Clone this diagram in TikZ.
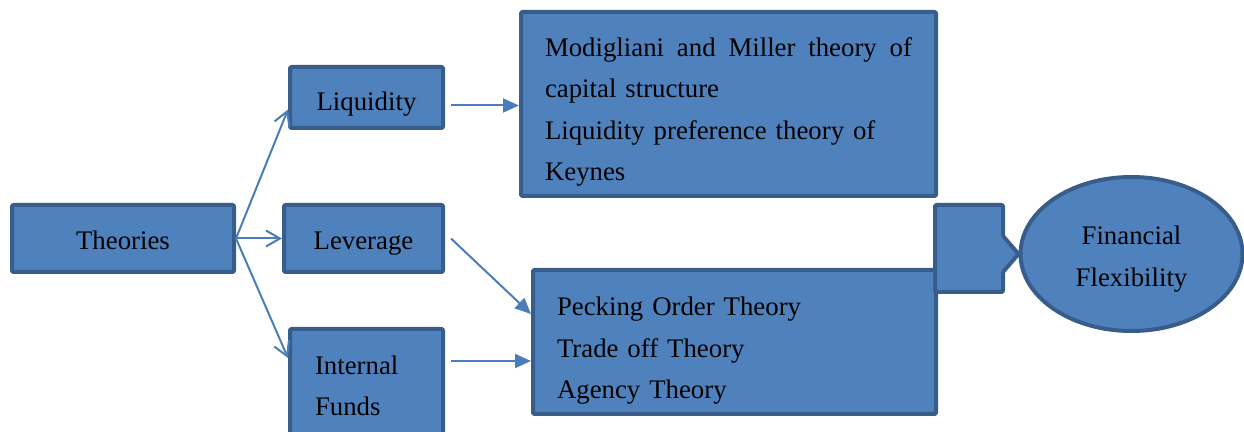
\documentclass[tikz,border=0pt]{standalone}
\usepackage{fontspec}
\setmainfont{Liberation Serif}
\usetikzlibrary{arrows.meta,shapes.geometric}
\definecolor{boxfill}{HTML}{4F81BD}
\definecolor{boxline}{HTML}{385D8A}
\definecolor{arrowblue}{HTML}{4A7EBB}
% taller first line, so the text sits lower in its box
\newcommand\txtdown[1]{\rule{0pt}{\dimexpr 9.2pt+#1\relax}}

\begin{document}
\begin{tikzpicture}[x=0.5pt, y=-0.5pt, font=\fontsize{13.4}{20.75}\selectfont,
  box/.style={draw=boxline, fill=boxfill, line width=2pt, line join=round, rounded corners=0.6pt, inner sep=0pt},
  fan/.style={-{Straight Barb[length=7pt,width=8pt]}, arrowblue, line width=1pt},
  link/.style={-{Triangle[length=8pt,width=7pt]}, arrowblue, line width=1pt}]
\useasboundingbox (0,0) rectangle (1244,432);

\node[box, minimum width=111pt, minimum height=33.5pt] (theories) at (123,238.5) {\txtdown{2pt}Theories};
\node[box, minimum width=76.5pt, minimum height=30.5pt] (liquidity) at (366.5,97.5) {\txtdown{7pt}Liquidity};
  \node[box, minimum width=79.5pt, minimum height=33.5pt] (leverage) at (363.5,238.5) {\txtdown{5pt}Leverage};
\node[box, text width=51.5pt, inner xsep=12.5pt, minimum height=60.5pt, align=left] (internal) at (366.5,389.5) {Internal\\Funds\rule[-4pt]{0pt}{0pt}};

\node[box, text width=183.5pt, inner xsep=12pt, minimum height=92pt, align=left] (modig) at (728.5,104)
  {\txtdown{8pt}\hbox to 183.5pt{Modigliani\hfill and\hfill Miller\hfill theory\hfill of}\\capital structure\\Liquidity preference theory of\\Keynes};
\node[box, text width=177.5pt, inner xsep=12pt, minimum height=72pt, align=left] (pecking) at (734.5,342)
  {\txtdown{9pt}Pecking Order Theory\\Trade off Theory\\Agency Theory};

\node[box, ellipse, minimum width=111pt, minimum height=77pt, align=center] (flex) at (1131.5,254) {\txtdown{5pt}Financial\\Flexibility};
% callout pointing at the ellipse
\draw[box] (935,205) -| (1003,236) -- (flex.west) -- (1003,272) |- (935,292) -- cycle;

  \draw[fan] (theories.east) -- ([yshift=-6pt]liquidity.west);
  \draw[fan] (theories.east) -- (leverage.west);
  \draw[fan] (theories.east) -- ([yshift=-15.5pt]internal.north west);

\coordinate (liqout) at ([xshift=3pt,yshift=-4pt]liquidity.east);
\coordinate (intout) at ([xshift=3pt,yshift=-17pt]internal.north east);
  \draw[link] (liqout) -- (liqout -| modig.west);
  \draw[link] ([xshift=3pt]leverage.east) -- ([yshift=-23pt]pecking.north west);
  \draw[link] (intout) -- (intout -| pecking.west);

\end{tikzpicture}
\end{document}
